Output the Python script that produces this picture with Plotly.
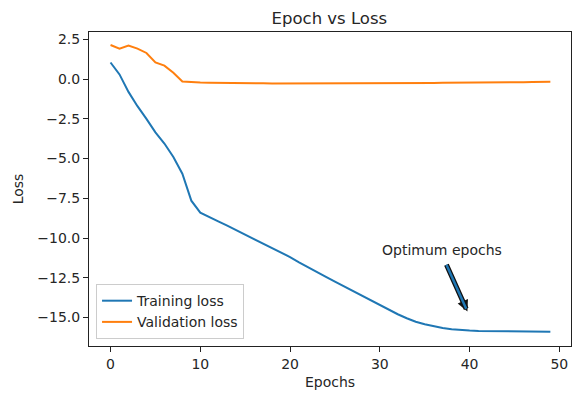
import plotly.graph_objects as go

epochs = list(range(50))
training_loss = [1.05, 0.3, -0.8, -1.7, -2.5, -3.35, -4.05, -4.9, -5.95, -7.65,
                 -8.4, -8.7, -8.95, -9.22, -9.5, -9.77, -10.03, -10.31, -10.6, -10.9,
                 -11.2, -11.53, -11.85, -12.15, -12.45, -12.75, -13.05, -13.35, -13.65, -13.95,
                 -14.25, -14.55, -14.8, -15.05, -15.27, -15.43, -15.57, -15.67, -15.75, -15.8,
                 -15.83, -15.85, -15.86, -15.87, -15.87, -15.88, -15.88, -15.89, -15.89, -15.9]
validation_loss = [2.15, 1.92, 2.12, 1.92, 1.65, 1.05, 0.85, 0.4, -0.15, -0.2,
                   -0.21, -0.22, -0.22, -0.23, -0.24, -0.25, -0.26, -0.26, -0.27, -0.27,
                   -0.28, -0.28, -0.28, -0.28, -0.28, -0.28, -0.28, -0.27, -0.27, -0.27,
                   -0.27, -0.26, -0.26, -0.25, -0.25, -0.24, -0.24, -0.23, -0.23, -0.22,
                   -0.22, -0.21, -0.21, -0.2, -0.2, -0.19, -0.19, -0.18, -0.18, -0.17]
x_ticks = [0, 10, 20, 30, 40, 50]
y_ticks = [2.5, 0.0, -2.5, -5.0, -7.5, -10.0, -12.5, -15.0]

annot_text = "Optimum epochs"
annot_text_pos = (30, -10.75)
arrow_tail = (37.35, -11.59)
arrow_tip = (39.76, -14.63)

FONT = "DejaVu Sans"
TXT = "#262626"

fig = go.Figure()
fig.add_trace(go.Scatter(x=epochs, y=training_loss, mode="lines", name="Training loss",
                         line=dict(color="#1f77b4", width=2)))
fig.add_trace(go.Scatter(x=epochs, y=validation_loss, mode="lines", name="Validation loss",
                         line=dict(color="#ff7f0e", width=2)))

axis_common = dict(showline=True, mirror=True, linecolor="#222222", linewidth=1,
                   ticks="outside", ticklen=5, tickwidth=1, tickcolor="#222222",
                   showgrid=False, zeroline=False,
                   tickfont=dict(family=FONT, size=14, color=TXT))

fig.update_xaxes(range=[-2.4, 51.3], tickvals=x_ticks,
                 title=dict(text="Epochs", font=dict(family=FONT, size=14, color=TXT), standoff=6),
                 **axis_common)
fig.update_yaxes(range=[-16.8, 2.97], tickvals=y_ticks, tickformat=".1f",
                 title=dict(text="Loss", font=dict(family=FONT, size=14, color=TXT), standoff=10),
                 **axis_common)

fig.add_annotation(x=arrow_tip[0], y=arrow_tip[1], ax=arrow_tail[0], ay=arrow_tail[1],
                   axref="x", ayref="y", xref="x", yref="y", text="", showarrow=True,
                   arrowhead=2, arrowsize=0.45, arrowwidth=5, arrowcolor="#111111", standoff=0)
fig.add_annotation(x=arrow_tip[0], y=arrow_tip[1], ax=arrow_tail[0], ay=arrow_tail[1],
                   axref="x", ayref="y", xref="x", yref="y", text="", showarrow=True,
                   arrowhead=0, arrowwidth=2.5, arrowcolor="#1f77b4", standoff=3)
fig.add_annotation(x=annot_text_pos[0], y=annot_text_pos[1], xref="x", yref="y",
                   text=annot_text, showarrow=False, xanchor="left", yanchor="middle",
                   font=dict(family=FONT, size=14, color=TXT))

fig.update_layout(
    width=572, height=394,
    margin=dict(l=89, r=1, t=32, b=48),
    paper_bgcolor="white", plot_bgcolor="white",
    title=dict(text="Epoch vs Loss", x=0.5758, xanchor="center", y=0.955, yanchor="middle",
               font=dict(family=FONT, size=16.5, color=TXT)),
    legend=dict(x=0.0146, y=0.022, xanchor="left", yanchor="bottom",
                bgcolor="rgba(255,255,255,0.8)", bordercolor="#cccccc", borderwidth=1,
                font=dict(family=FONT, size=14, color=TXT), itemwidth=30,
                tracegroupgap=0),
    showlegend=True,
)

fig.write_html("out.html")
